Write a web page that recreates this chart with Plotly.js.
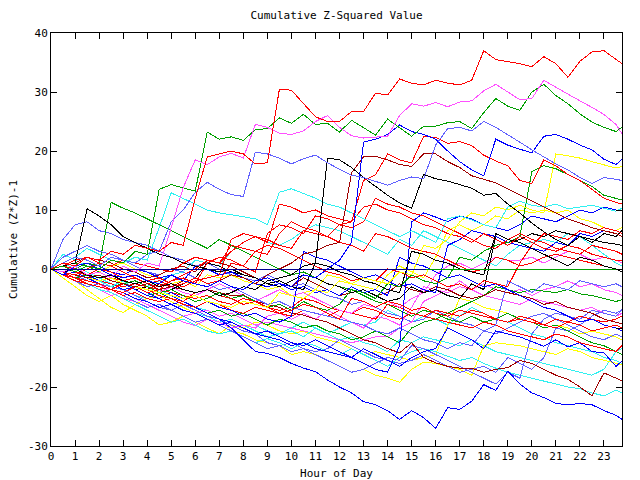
<!DOCTYPE html>
<html><head><meta charset="utf-8">
<script src="https://cdn.plot.ly/plotly-3.0.1.min.js"></script>
<style>html,body{margin:0;padding:0;background:#fff}#chart{width:640px;height:480px}
.js-line{shape-rendering:crispEdges}</style>
</head><body><div id="chart"></div>
<script>
// hour of day (half-hour samples, last sample 23:45)
const hours = [0,0.5,1,1.5,2,2.5,3,3.5,4,4.5,5,5.5,6,6.5,7,7.5,8,8.5,9,9.5,10,10.5,11,11.5,
  12,12.5,13,13.5,14,14.5,15,15.5,16,16.5,17,17.5,18,18.5,19,19.5,20,20.5,21,21.5,22,22.5,23,23.5,23.75];
const xTicks = [0,1,2,3,4,5,6,7,8,9,10,11,12,13,14,15,16,17,18,19,20,21,22,23];
const yTicks = [-30,-20,-10,0,10,20,30,40];

const redTop = [0,1,0.5,2,1.5,3,2.5,4, 3.5,3,4.5,4,12,19,19.5,20, 19.5,17.8,18,30.5,30.3,28,25.8,25,
  25,26.7,26.7,29.8,29.5,32.2,31.5,31.2, 32,31.5,31.2,32,37,35.5,35.2,34.8, 34.3,36,34.8,32.5,35.2,36.8,37,35.5, 34.8];
const magentaTop = [0,-0.5,0.5,-1,-0.5,-1.5,0.5,-0.5, 1,0.5,7,13.8,18.5,17.7,19,19.6, 18.8,24.5,24,23,22.8,23.4,25,26,
  24,22.6,22.2,22.4,22.5,26,28,27.6, 28.2,27.5,28.3,28.5,30.2,31.3,30,28.7, 28.9,32,30.8,29.6,28.5,27.4,26.2,24.5, 22.9];
const greenTop = [0,0.5,-0.5,0.5,0,1.5,1,3, 2.5,13.5,14.3,13.7,13.2,23.2,22,22.4, 21.8,23.6,23.8,25.6,24.7,26.2,24.5,24.7,
  23.2,25.2,23.9,22.7,25.4,24,22.5,24.2, 24.2,24.8,25,23.8,26.5,28.9,27.6,26.9, 30,31.3,29.4,28,26.3,24.9,24,23.3, 24];
const lavenderTop = [0,1,2,1.5,0.5,2,1.5,1, 2.5,3,8,10,13,14.7,13.5,12.6, 12.3,19.8,19.5,18.8,17.8,18.7,19.3,18,
  16.9,15.9,15.5,14.8,14.2,15,15.6,15.3, 21,23.8,24,23.4,25,24,22.8,21.5, 20.2,19,17.8,16.8,15.5,14.5,15.5,15.2, 15];
const blueUpper = [0,-1,0.5,1,0,-1,-1.5,-1, -2,-2.5,-1,-2,-2.5,-3,-2,-3, -3.5,-2,-1.5,-2.5,-3,-1,-1.5,0,
  1.5,4.5,21.5,22,22.8,24.4,23.3,22.8, 22,20,18.2,16.8,15.8,22,21,20.3, 19.7,22.5,22.8,22,21,20.2,18.6,17.7, 18.6];
const blackEarly = [0,0.5,1,10.2,9,7.5,5.5,4.5, 3.5,2.5,2,1,0.5,0,-0.5,0, -1,-1.5,-2.5,-2,-3,-3.5,1,0.5,
  -0.5,-1,-2,-2.5,-3.5,-4,3,2.5, 1.5,1,0,-0.5,-1,6,5,4.5, 3.5,2.5,1.5,0.5,2,1.5,0.5,0, -0.5];
const blackMid = [0,-0.5,0,-1,-1.5,-1,-2,-2.5, -2,-3,-2.5,-3.5,-4,-3.5,-4.5,-4, -3,-3.5,-2,-1.5,-1,0.5,1,18.8,
  18.5,17.2,15.5,14,12.5,11.2,10.3,16, 15.3,14.9,14.3,13.7,12.5,12.8,11,9.5, 7.8,6.3,5,4,5.5,5,4.5,4.2, 4];
const redUpper = [0,-0.5,-1,0,1,0.5,1.5,1, 0.5,0,-0.5,1,2,1.5,1,4, 3.5,3,2.5,6,8,7,6.5,5.5,
  7.5,8,15,16,19.5,18.5,18,22.5, 22.3,21.3,21.6,20.9,19.3,18.3,17.5,15, 14.5,18.5,17.5,16,15,13.5,12,11.3, 11];
const redMidA = [0,0.5,-0.5,-1,0,-0.5,-1.5,-1, -2,-1.5,-2.5,-3,-2,-1.5,-1,5, 6,5.5,4.5,11,10.5,9.5,10,9,
  8.5,8,10.5,11,10,9.5,8.5,7.5, 7,6,5.5,4.5,6,5,4,5.5, 4.5,3.5,3,4,3.5,2.5,2,1.5, 1.5];
const darkRedUpper = [0,-0.5,-1,-1.5,-1,-2,-2.5,-3, -2.5,-3.5,-3,-2,-2.5,-3,-2,-1, -1.5,-2.5,-1,0,1,2.5,3,4,
  4.5,16.3,19,19.1,18.5,17.7,17.4,19.5, 19.5,18.2,17.2,15.8,15.2,14.6,13.6,12.6, 11.5,10.5,9.5,8.5,7.8,7,6.5,6, 5.5];
const cyanUpper = [0,1,2,3.5,2.5,1.5,1,2, 1.5,7,12.9,12,11,10,9.5,9.2, 8.9,8.5,7.5,13,13.6,12.8,12,11,
  10.5,9.5,8.5,7.5,6.5,5.5,6.5,5.5, 4.5,8.5,9,8.3,7.5,7,10.5,11.5, 10.8,10.5,11,10.2,10.5,10.8,10.3,9.8, 10.3];
const yellowUpper = [0,-0.5,-1,-1.5,-2,-1.5,-2.5,-3, -3.5,-4,-4.5,-5,-4.5,-5.5,-6,-6.5, -5.5,-6,-6.5,-4,-4.5,-5,-3.5,-4,
  -2,-2.5,-1.5,-2,-2.5,-0.5,-1,4, 3.5,5,8,9.5,9,10.5,10,10.8, 10,9.5,19.5,19.2,18.8,18.2,17.6,17.1, 17.4];
const greenEarly = [0,0.5,0,1,0.5,11.3,10.3,9.5, 8.5,7.5,6.5,5.5,4.5,3.5,5,4, 3,2,1,0,-1,-0.5,-1.5,-2.5,
  -3,-3.5,-4.5,-5.5,-6,-7,-8,-7, -7.5,-8.5,-9,-8,-9,-8.5,-7.5,-8.5, -9,-10,-9.5,-10.5,-11.5,-12.5,-13,-14, -14.5];

const blueBottom = [0,-0.5,-1,-1.5,-1,-2,-2.5,-3, -3.5,-4,-4.5,-5.5,-6.5,-7.5,-8.5,-10, -12,-14,-14.3,-15,-16,-16.8,-17.4,-18.8,
  -20,-21,-22.5,-23,-24,-25.5,-24,-25.2, -27,-23.5,-23.8,-22.4,-19.6,-20.6,-17.3,-19.5, -21,-21.8,-22.8,-23,-22.8,-23,-24,-24.8, -25.5];
const blueLower = [0,0.5,-0.5,-1,-2,-2.5,-3.5,-3, -4,-5,-6,-5.5,-6.5,-7.5,-8.5,-9, -10,-11,-10.5,-11.5,-12.5,-13,-12,-13,
  -14,-15,-13.5,-14.5,-15.5,-16.5,-15,-14, -13.5,-10,-11,-12,-13.5,-10.5,-11,-11.5, -12.3,-13.1,-12,-13.2,-12.5,-14,-14.2,-16.5, -15.6];
const darkRedLower = [0,-0.5,-1,-1.5,-2,-1.5,-2.5,-3, -3.5,-2.5,-3,-3.5,-4,-3.5,-4,-4.5, -4.4,-5.5,-6,-6.5,-7.5,-7.8,-8.5,-9,
  -10,-11,-12,-12.5,-13.5,-14.2,-12.5,-15, -15.9,-16.5,-16.8,-16.8,-17.5,-17,-16.7,-15.5, -16,-17,-18,-18.7,-20,-21.5,-17.6,-18.5, -19];
const cyanLowerA = [0,-0.5,-1.5,-2.5,-3.5,-4,-5,-6, -7,-8,-9,-8.5,-9.5,-10.5,-11,-10.5, -11.5,-12.5,-11.8,-12.5,-13.5,-12.5,-13,-14,
  -14.5,-13.5,-14.5,-15.5,-16.5,-15,-14,-13.5, -14,-14.8,-15.5,-15,-16,-16.8,-17.5,-18, -18.5,-19,-19.5,-20,-20.3,-21,-21.5,-20.5, -21];
const cyanLowerB = [0,1,0.5,-0.5,-1.5,-2.5,-3.5,-4.5, -5,-4.5,-5.5,-6.5,-7.5,-8,-9,-8.5, -9.5,-10.5,-11.5,-11,-10.5,-11.5,-10,-11,
  -12,-11.5,-12.5,-13,-14,-12,-12.5,-11.5, -12,-12.5,-13,-12,-13,-14,-14.5,-15, -15.5,-16,-16.5,-17,-17.5,-18,-17,-14, -13.5];
const lavenderLowerA = [0,-1,-2,-3,-2.5,-3.5,-4.5,-5.5, -6.5,-6,-7,-8,-9,-8.5,-9.5,-10.5, -11.5,-12.5,-13.5,-13,-14,-13.5,-14.5,-15.5,
  -16.5,-17.5,-17,-16,-15,-15.5,-13,-13.5, -14.5,-15.5,-16.5,-17.5,-18.5,-19.5,-17.5,-18.5, -11,-8.5,-7.5,-8,-8.5,-7,-7.5,-8, -7];
const yellowLower = [0,-1,-2,-3.5,-5,-6.5,-7.4,-6, -5,-4.5,-5.5,-6.5,-7.5,-8.5,-9.5,-10.5, -11,-12,-12.5,-13,-14.5,-14,-14.5,-15.5,
  -16.5,-17.5,-17,-18,-18.5,-19.2,-17,-15.8, -16,-16.5,-17,-18,-13,-12.5,-12.8,-13, -13.5,-14,-14.5,-13.5,-14,-15,-15.5,-16, -16.2];
const greenLower = [0,-0.5,-1.5,-1,-2,-3,-2.5,-3.5, -4.5,-4,-5,-6,-6.5,-7.5,-7,-8, -7.5,-8.5,-9.5,-8.5,-9,-10,-9.5,-10.5,
  -11,-12,-11.5,-10.5,-11.5,-12.5,-10,-9, -8.5,-7.5,-6.5,-5.5,-4.5,-3,-3.5,-4, -3.5,-3.8,-4,-3.5,-4.2,-4.5,-5,-5.5, -5.2];
const magentaLower = [0,-0.5,-1.5,-2.5,-3.5,-4.5,-4,-5, -6,-7,-8,-9,-9.6,-8.5,-9,-10, -9.5,-10,-8,-7.5,-8.5,-7.5,-8.5,-7,
  -8,-9,-10,-8,-8.5,-9.5,-6.5,-3, -3.5,-4,-3,-3.5,-4.5,-5,-5.5,-6, -5,-5.5,-6,-6.5,-7,-6.5,-7.5,-8, -7.5];
const lavenderLowerB = [0,-0.5,-1,-2,-2.5,-3,-3.5,-4.5, -5.5,-6.5,-7,-6,-7,-8,-8.5,-9.5, -10.5,-11,-12.5,-13,-12.5,-13.5,-14,-13.5,
  -12,-13,-14,-15,-15.5,-16,-15.5,-14.5, -15.5,-16.5,-17.5,-17,-16.5,-17.5,-15,-16, -17,-15,-10,-10.5,-9.5,-8,-7,-7.5, -6.9];

const redMidB = [0,0.5,1.5,2,1,0.5,-0.5,-1.5, -2.5,-3,-2,-1,0,1.5,1,3, 4.5,5.5,5,4,3.5,6.5,6,5.5,
  4.5,4,3,6,5.5,4.5,3.5,3, 2.5,1.5,0.5,-0.5,0,2,1.5,0.5, 1,2,2.5,2,1.5,1,0.5,0, -0.5];
const redMidC = [0,-1,-2,-2.5,-3,-3.5,-2.5,-3, -4,-3.5,-2,-1.5,-2.5,1,2,1.5, 0.5,3,4,3.5,2.5,1.5,0.5,-0.5,
  -1,-2,-1.5,-2,0,-0.5,-1.5,-1, -2,-3,-2.5,-3.5,-2,-2.5,-3,1, 4,6,5.5,5,6.5,6,7,6.5, 6];
const redLowMid = [0,-0.5,-1.5,-2,-2.5,-3.5,-4,-3, -3.5,-4.5,-5,-5.5,-4,-3.5,-4.5,-5, -6,-5.5,-6.5,-7.5,-7,-6,-6.5,-7.5,
  -8.5,-5,-5.5,-6.5,-5.5,-6,-7,-6.5, -7.5,-8,-7,-7.5,-8,-8.5,-9,-8, -8.5,-9.5,-10,-9,-9.5,-10.5,-10,-9.5, -10];
const redMidD = [0,0.5,0,-1,-0.5,-1.5,-2,-1.5, -2.5,-2,-3,-2.5,-1.5,-2.5,-2,1, 0.5,-0.5,6,7.5,7,6,9,8.5,
  7.5,7,8,12,11,10.5,9.5,9, 8,7,6,5,4,3.5,5,6, 5,4.5,3.5,3,2.5,4,3.5,3, 2.5];
const redBandA = [0,-0.5,-1,-1.5,-2,-2.5,-3,-2.5, -3,-3.5,-4,-4.5,-5,-4.5,-5.5,-6, -5,-5.5,-6.5,-7,-6.5,-5,-5.5,-6.5,
  -7,-7.5,-8,-8.5,-6,-6.5,-7.5,-8, -8.5,-9,-9.5,-10,-9,-9.5,-10.5,-11, -11.5,-12,-11,-11.5,-12.5,-13,-13.5,-14, -13];
const redBandB = [0,-1,-1.5,-2.5,-3,-3.5,-4.5,-4, -5,-5.5,-5,-6,-6.5,-5.5,-6,-7, -7.5,-6.5,-7,-7.5,-8,-7,-7.5,-8,
  -7,-7.5,-6.5,-7,-8,-8.5,-7.5,-8, -7,-7.5,-8,-7,-7.5,-8.5,-9,-8.5, -9,-9.5,-8.5,-9,-8,-8.5,-9,-8.5, -8];
const greenMid = [0,0.5,1,0.5,-0.5,-1.5,-2.5,-2, -3,-4,-3.5,-4.5,-5.5,-5,-4,-5, -4.5,-5.5,-6.5,-6,-7,-5.5,-6.5,-7,
  -6,-3.5,-4,-5,-2.5,-3,-1,-2, -2.5,-1.5,2,1.5,3,4,4.5,5.5, 16.5,17.5,17,16,15,14,12.5,12, 11.7];
const blueJumpA = [0,-1,-0.5,-1.5,-2.5,-3.5,-4,-5, -5.5,-6.5,-6,-7,-7.5,-8.5,-9.5,-9, -10,-11,-11.5,-12,-13,-12.5,-13.5,-14,
  -14.5,-15,-16,-17,-17.5,-13,8,9.5, 8.8,8,9,8.5,7.5,7,6.5,7.5, 9,8.5,8,9,10,9.5,10.5,10, 10];
const blueJumpB = [0,0.5,-0.5,-1,-2,-1.5,-2.5,-3.5, -4.5,-5,-4,-5,-4.5,-5.5,-6.5,-7, -8,-7.5,-8.5,-9,-8,3,2,1.5,
  0.5,-0.5,-1.5,-1,-2,-3,-2.5,-3.5, -4,4,5,6.5,6,5.5,4.5,4, 3.5,3,4.5,4,6,5.5,6.5,6, 5.5];
const blueMid = [0,1,2,1.5,0.5,-0.5,-1,0, -0.5,-1.5,-1,-2,0.5,0,-1,-0.5, -1.5,-2.5,-3,-2.5,-3.5,-3,-4,-3.5,
  -4.5,-3,-4,-3.5,-4.5,2,1,0.5, -0.5,-1.5,-1,-2,-3,-2.5,-3.5,-4.5, -5.5,-6.5,-7,-8,-9,-8.5,-9.5,-10, -10.5];
const lavenderMid = [0,2,3,4,3,2.5,1.5,0.5, -0.5,-1,0,-0.5,-1.5,-2.5,-3.5,-3, -4,-5,-6,-5.5,-6.5,-7,-7.5,-8,
  -8.5,-9,-9.5,-10.5,-11,-10,-11,-12, -12.5,-13.5,-12.5,-13,-10.5,-9.5,-2,-3, -4,-2.5,-3,-3.5,-2,-2.5,-3,-2.5, -3];
const lavenderEarly = [0,5,7.5,8,6.5,6,5,4.5, 4,3,2,1.5,0.5,1,0,-1, -1.5,-2,-1,-2,-3,-2.5,-3.5,-4.5,
  -5,-6,-5.5,-6.5,-7.5,-8,-9,-8.5, -7,-8,-9,-9.5,-10.5,-11,-10,-9, -8,-7.5,-8.5,-9.5,-10.5,-11.5,-12,-11, -11.5];
const cyanMidA = [0,2.5,1.5,0.5,-0.5,-1.5,-2.5,-3.5, -4.5,-3.5,-4.5,-5.5,-6.5,-7,-8,-7.5, -8.5,-9.5,-10.5,-11,-10,-9,-10,-11,
  -10,-9,-9.5,-9,-7,-8,-9,-8, -8.5,-9.5,-8,-6.5,-7.5,-8.5,-9,-10, -11,-11.5,-12.5,-13,-13.5,-14,-15,-15.5, -16];
const cyanMidB = [0,1,0,-1,-2,-3,-2,-3.5, -3,-2,-1,-0.5,1.5,1,0.5,3, 4.5,5.5,4.5,4,5,6.5,7.5,7,
  6.5,5.5,4.5,3.5,2.5,5,4,6.5, 5.5,4.5,3.5,2.5,1.5,0.5,2.5,4, 4.5,5,4.5,6,5.5,4,2.5,1, 0.5];
const magentaMidA = [0,0.5,-0.5,-1.5,-1,-2,-2.5,-3.5, -3,-4,-3,-4,-4.5,-3.5,-2.5,-3.5, -4.5,-5.5,-4.5,-3.5,-4.5,-4,-5,-6,
  -7,-7.5,-6,-6.5,-5.5,-6.5,-5,-4, -1,0.5,1,0,1,2,1.5,1.5, 2,1,2,3,2.5,1.5,2,1.5, 1];
const magentaMidB = [0,-1,-2,-3,-2.5,-4,-5,-5.5, -6.5,-6,-7,-8,-7.5,-7,-8,-7.5, -8.5,-9.5,-9,-9.5,-10,-10.5,-11,-11.5,
  -12,-12.5,-12,-11.5,-11.5,-10,-9,-5.5, -4.5,-3.5,-2,-3.5,-2.5,-3.5,-4,-3.5, -4.5,-3.5,-3,-2,-3,-2.5,-3.5,-4, -4.5];
const yellowMidA = [0,-1.5,-3,-4.5,-5.5,-4.5,-6,-7, -8,-9.5,-9,-8,-9,-10,-11,-9.5, -10,-9,-9.5,-10.5,-11,-10.5,-11.5,-12,
  -12.5,-13.5,-14.5,-14,-14.5,-15,-15.5,-15, -14.5,-9.5,-5,-5.5,-6.5,-7,-7.5,-8.5, -9,-10,-9.5,-10,-11,-10.5,-11,-11.5, -12];
const yellowMidB = [0,0.5,-0.5,-1,-0.5,0.5,1,0, -1,-1.5,-2.5,-2,-3,-1,-1.5,-1, -2,-2.5,-3.5,-3,-4.5,-4,-3.5,-1,
  -1.5,-2.5,-3,-3.5,-1,0.5,-0.5,-1.5, 2,6.5,7.5,6.5,7.5,9,8.5,10, 9.5,10,9.5,10,8.5,8,7,6.5, 7];
const darkRedMid = [0,0.5,1,2,1.5,1,0,-0.5, -1.5,-1,0,0.5,-0.5,1.5,1,0.5, -0.5,-1.5,-2.5,-2,-3,-1.5,-2.5,-3.5,
  -4.5,-4,-3.5,-4.5,-4,-2.5,-3.5,-4, -3,-3.5,-4.5,-5,-4.5,-3.5,-4,-4.5, -5,-6,-5.5,-6.5,-7,-7.5,-8.5,-9, -9.3];
const blackLow = [0,0.5,-0.5,-1.5,-1,-2,-2.5,-3.5, -3,-4,-3.5,-2.5,-1.5,1,0.5,-0.5, -1,-1.5,-2.5,-3,-2,-1,-1.5,-2.5,
  -3,-4,-3.5,-4.5,-5.5,-5,-3,-4, -3.5,-4.5,-5,-2.5,-3.5,5.5,4.5,5, 6,5.5,6.5,6,5.5,4.5,6,5.5, 6.5];

// flat series lying on zero
const zeroHours = [0, 23.75];
const zeroValues = [0, 0];
const zeroLateHours = [15.6, 23.75];
const zeroLateValues = [0, 0];

const RED='#ff0000', GREEN='#00a000', BLUE='#0000ff', MAGENTA='#ff50ff', CYAN='#30f0f0',
      LAV='#6060ff', DRED='#a00000', YEL='#ffff00', BLK='#000000', NAVY='#000090';

const seriesList = [
  [cyanMidA,CYAN],[yellowMidA,YEL],[lavenderEarly,LAV],[magentaMidB,MAGENTA],[cyanLowerB,CYAN],
  [yellowLower,YEL],[lavenderLowerB,LAV],[magentaLower,MAGENTA],[greenLower,GREEN],[cyanLowerA,CYAN],
  [lavenderLowerA,LAV],[darkRedLower,DRED],[blueLower,BLUE],[blueBottom,BLUE],[greenEarly,GREEN],
  [redBandA,RED],[redBandB,RED],
  [yellowMidB,YEL],[cyanMidB,CYAN],[magentaMidA,MAGENTA],[lavenderMid,LAV],[darkRedMid,DRED],
  [blackLow,BLK],[blueMid,BLUE],[blueJumpB,BLUE],[blueJumpA,BLUE],[greenMid,GREEN],
  [redLowMid,RED],[redMidB,RED],[redMidC,RED],[redMidD,RED],[redMidA,RED],
  [yellowUpper,YEL],[cyanUpper,CYAN],[darkRedUpper,DRED],[blackEarly,BLK],[blackMid,BLK],
  [redUpper,RED],[blueUpper,BLUE],[lavenderTop,LAV],[greenTop,GREEN],[magentaTop,MAGENTA],[redTop,RED]
];

const traces = seriesList.map(([vals,color]) => ({
  x: hours, y: vals, mode:'lines', line:{color:color, width:1}, hoverinfo:'skip'
}));
traces.push({x: zeroHours, y: zeroValues, mode:'lines', line:{color:NAVY, width:1}, hoverinfo:'skip'});
traces.push({x: zeroLateHours, y: zeroLateValues, mode:'lines', line:{color:GREEN, width:1}, hoverinfo:'skip'});

const FONT = {family:'DejaVu Sans Mono, monospace', size:11, color:'#000'};
const axisCommon = {
  ticks:'inside', ticklen:6, tickwidth:1, tickcolor:'#000',
  showline:true, linecolor:'#000', linewidth:1, mirror:'ticks',
  showgrid:false, zeroline:false, fixedrange:true,
  tickfont:FONT
};

const layout = {
  width:640, height:480,
  margin:{l:51, r:18, t:33, b:34, pad:0},
  paper_bgcolor:'#ffffff', plot_bgcolor:'#ffffff',
  showlegend:false,
  font:FONT,
  title:{text:'Cumulative Z-Squared Value', x:0.5, xref:'paper', xanchor:'center',
         y:1-15/480, yref:'container', yanchor:'middle', font:FONT},
  xaxis:Object.assign({}, axisCommon, {
    range:[0,23.75], tickmode:'array', tickvals:xTicks, ticktext:xTicks.map(String),
    title:{text:'Hour of Day', standoff:7, font:FONT}
  }),
  yaxis:Object.assign({}, axisCommon, {
    range:[-30,40], tickmode:'array', tickvals:yTicks, ticktext:yTicks.map(String),
    title:{text:'Cumulative (Z*Z)-1', standoff:8, font:FONT}
  })
};

Plotly.newPlot('chart', traces, layout, {staticPlot:true, displayModeBar:false});
</script></body></html>
